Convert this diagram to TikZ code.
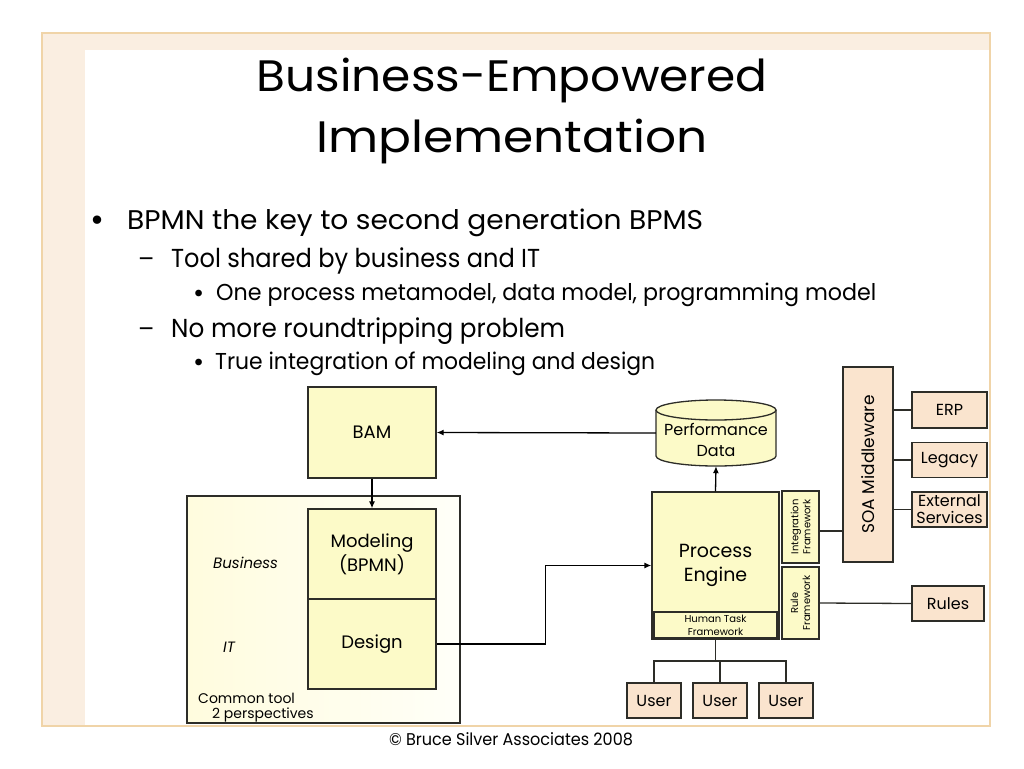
\documentclass[tikz,border=0pt]{standalone}
\usepackage{fontspec}
\usepackage{graphicx}
\setmainfont{Poppins}
\usetikzlibrary{arrows.meta}
\definecolor{ylw}{RGB}{252,250,200}
\definecolor{boxtan}{RGB}{250,228,206}
\definecolor{frameline}{RGB}{240,212,168}
\definecolor{framefill}{RGB}{250,238,225}
\definecolor{ink}{RGB}{45,45,40}
\definecolor{ivoryL}{RGB}{255,252,222}
\definecolor{ivoryR}{RGB}{255,255,248}
\newcommand{\fs}[2]{\fontsize{#1pt}{#2pt}\selectfont}
\newcommand{\fitw}[2]{\resizebox{#1}{\height}{#2}}
\begin{document}
\begin{tikzpicture}[x=1pt,y=-1pt,
  box/.style={draw=ink,line width=1.3pt,inner sep=0pt,align=center,text=black},
  ybox/.style={box,fill=ylw},
  tbox/.style={box,fill=boxtan},
  arr/.style={draw=black,line width=1.3pt,-{Latex[length=7pt,width=6pt]}},
  conn/.style={draw=ink,line width=1.3pt},
  txt/.style={inner sep=0pt,text=black}]
\useasboundingbox (0,0) rectangle (1024,768);
\fill[white] (0,0) rectangle (1024,768);
% slide frame
\fill[framefill] (42,33) rectangle (85,726);
\fill[framefill] (42,33) rectangle (990,50);
\draw[frameline,line width=2.5pt] (42,33) rectangle (990,726);
% title
\node[txt,anchor=base] (t1) at (512,92) {\fitw{511pt}{\fs{44}{50}Business-Empowered}};
\node[txt,anchor=base] (t2) at (512,152) {\fitw{391pt}{\fs{44}{50}Implementation}};
% bullets
\node[txt,anchor=base west] (b1m) at (90,231) {\fs{34}{38}•};
\node[txt,anchor=base west] (b1) at (127,229) {\fitw{576pt}{\fs{27}{30}BPMN the key to second generation BPMS}};
\node[txt,anchor=base west] (b2m) at (138,267) {\fs{24}{28}–};
\node[txt,anchor=base west] (b2) at (171,267) {\fitw{369pt}{\fs{26}{30}Tool shared by business and IT}};
\node[txt,anchor=base west] (b3m) at (193,302) {\fs{27}{30}•};
\node[txt,anchor=base west] (b3) at (216,300) {\fitw{660pt}{\fs{23}{26}One process metamodel, data model, programming model}};
\node[txt,anchor=base west] (b4m) at (138,337) {\fs{24}{28}–};
\node[txt,anchor=base west] (b4) at (171,337) {\fitw{394pt}{\fs{26}{30}No more roundtripping problem}};
\node[txt,anchor=base west] (b5m) at (193,371) {\fs{27}{30}•};
\node[txt,anchor=base west] (b5) at (215,369) {\fitw{440pt}{\fs{23}{26}True integration of modeling and design}};
% container
\node[draw=ink,line width=1.3pt,left color=ivoryL,right color=ivoryR,minimum width=273pt,minimum height=227pt,inner sep=0pt] (cont) at (323.5,609.5) {};
\node[txt,anchor=base west,font=\itshape\fs{15}{18}] (biz) at (213,568) {Business};
\node[txt,anchor=base west,font=\itshape\fs{15}{18}] (it) at (223,652) {IT};
\node[txt,anchor=base west,font=\fs{14}{17}] (ct1) at (198,703) {Common tool};
\node[txt,anchor=base west,font=\fs{14}{17}] (ct2) at (212,718) {2 perspectives};
% left boxes
\node[ybox,minimum width=128pt,minimum height=91pt,font=\fs{18}{21}] (bam) at (372,432.5) {BAM};
\node[ybox,minimum width=128pt,minimum height=90pt,font=\fs{18}{24}] (model) at (372,554) {Modeling\\(BPMN)};
\node[ybox,minimum width=128pt,minimum height=90pt,font=\fs{18}{21}] (design) at (372,644) {Design};
% performance data cylinder
\path[fill=ylw,draw=ink,line width=1.3pt] (656,410) -- (656,456) .. controls (656,461.52) and (682.86,466) .. (716,466) .. controls (749.14,466) and (776,461.52) .. (776,456) -- (776,410);
\draw[fill=ylw,draw=ink,line width=1.3pt] (716,410) ellipse [x radius=60, y radius=10];
\node[inner sep=0pt,minimum width=120pt,minimum height=66pt] (perf) at (716,433) {};
\node[txt,align=center,font=\fs{16}{21}] (perflbl) at (716,440) {Performance\\Data};
% process engine
\node[ybox,minimum width=127pt,minimum height=147pt,font=\fs{19}{24}] (engine) at (715.5,565.5) {Process\\Engine};
\node[ybox,minimum width=123pt,minimum height=26pt,font=\fs{10}{13}] (htf) at (715.5,625) {Human Task\\Framework};
\node[ybox,minimum width=37pt,minimum height=72pt] (intfw) at (800.5,527) {};
\node[txt,rotate=90,align=center,font=\fs{10}{12}] (intlbl) at (intfw) {Integration\\Framework};
\node[ybox,minimum width=37pt,minimum height=72pt] (rulefw) at (800.5,603) {};
\node[txt,rotate=90,align=center,font=\fs{10}{12}] (rulelbl) at (rulefw) {Rule\\Framework};
% SOA and systems
\node[tbox,minimum width=50pt,minimum height=195pt] (soa) at (868,464.5) {};
\node[txt,rotate=90,font=\fs{17}{20}] (soalbl) at (soa) {SOA Middleware};
\node[tbox,minimum width=75pt,minimum height=36pt,font=\fs{16}{19}] (erp) at (949.5,410) {ERP};
\node[tbox,minimum width=75pt,minimum height=35pt,font=\fs{16}{19}] (legacy) at (949.5,460) {Legacy};
\node[tbox,minimum width=75pt,minimum height=35pt,font=\fs{16}{17}] (ext) at (949.5,509.5) {External\\Services};
\node[tbox,minimum width=72pt,minimum height=35pt,font=\fs{16}{19}] (rules) at (948,603.5) {Rules};
% users
\node[tbox,minimum width=54pt,minimum height=35pt,font=\fs{16}{19}] (u1) at (654,700.5) {User};
\node[tbox,minimum width=54pt,minimum height=35pt,font=\fs{16}{19}] (u2) at (720,700.5) {User};
\node[tbox,minimum width=54pt,minimum height=35pt,font=\fs{16}{19}] (u3) at (786,700.5) {User};
% connectors
\draw[arr] (perf.west) -- (bam.east);
\draw[arr] (bam.south) -- (model.north);
\draw[arr] (design.east) -- ++(109,0) |- (engine.west);
\draw[arr] (engine.north) -- (perf.south);
\draw[conn] ([yshift=-4pt]intfw.east) -- ([yshift=-4pt]intfw.east -| soa.west);
\draw[conn] (soa.east |- erp.west) -- (erp.west);
\draw[conn] (soa.east |- legacy.west) -- (legacy.west);
\draw[conn] (soa.east |- ext.west) -- (ext.west);
\draw[conn] (rulefw.east) -- (rules.west);
\coordinate (bar) at (0,661);
\draw[conn] (engine.south) -- (engine.south |- bar);
\draw[conn] (u1.north) -- (u1.north |- bar) -- (u3.north |- bar) -- (u3.north);
\draw[conn] (u2.north) -- (u2.north |- bar);
% footer
\node[txt,anchor=base] (foot) at (511,745) {\fitw{244pt}{\fs{17}{20}© Bruce Silver Associates 2008}};
\end{tikzpicture}
\end{document}
